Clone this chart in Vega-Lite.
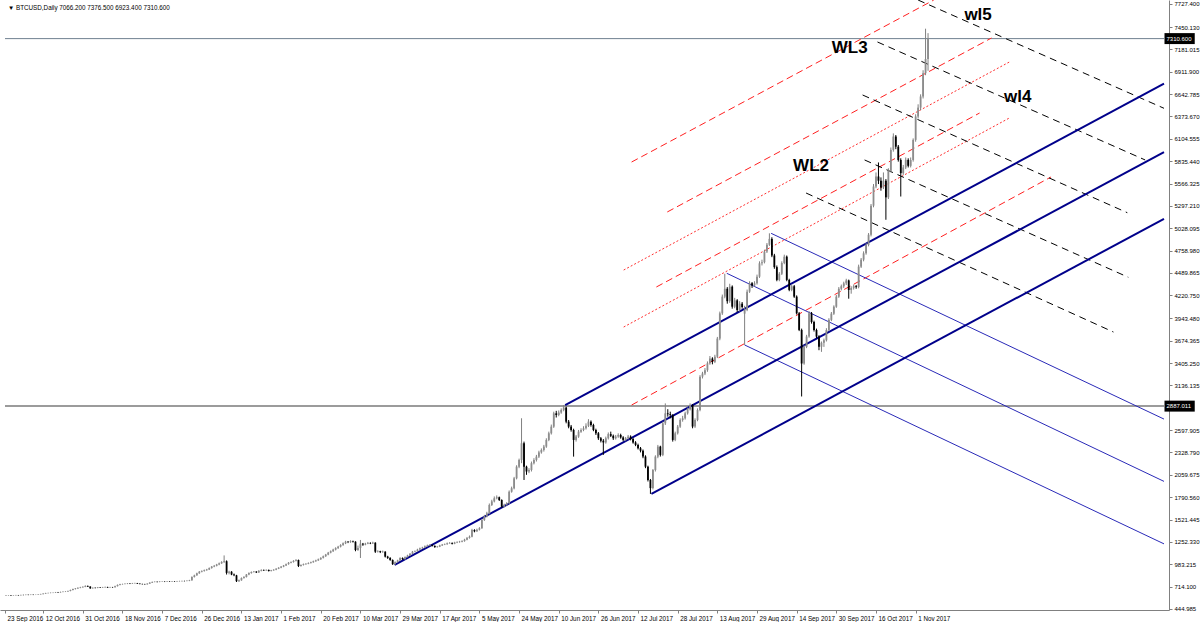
{
  "$schema": "https://vega.github.io/schema/vega-lite/v6.json",
  "width": 1169,
  "height": 610,
  "padding": 0,
  "background": "white",
  "view": {"stroke": null},
  "config": {"font": "Liberation Sans"},
  "datasets": {
    "bars": [
      {"i":0,"o":605,"h":612,"l":602,"c":608},{"i":1,"o":608,"h":613,"l":605,"c":610},{"i":2,"o":610,"h":612,"l":603,"c":606},
      {"i":3,"o":606,"h":611,"l":604,"c":609},{"i":4,"o":609,"h":615,"l":607,"c":612},{"i":5,"o":612,"h":614,"l":606,"c":610},
      {"i":6,"o":610,"h":617,"l":608,"c":614},{"i":7,"o":614,"h":617,"l":610,"c":613},{"i":8,"o":613,"h":619,"l":611,"c":616},
      {"i":9,"o":616,"h":618,"l":611,"c":614},{"i":10,"o":614,"h":620,"l":612,"c":617},{"i":11,"o":617,"h":619,"l":612,"c":615},
      {"i":12,"o":615,"h":619,"l":613,"c":616},{"i":13,"o":616,"h":623,"l":614,"c":620},{"i":14,"o":620,"h":628,"l":618,"c":624},
      {"i":15,"o":624,"h":634,"l":621,"c":630},{"i":16,"o":630,"h":640,"l":627,"c":636},{"i":17,"o":636,"h":642,"l":632,"c":638},
      {"i":18,"o":638,"h":644,"l":634,"c":640},{"i":19,"o":640,"h":646,"l":636,"c":642},{"i":20,"o":642,"h":650,"l":639,"c":646},
      {"i":21,"o":646,"h":650,"l":640,"c":645},{"i":22,"o":645,"h":654,"l":642,"c":650},{"i":23,"o":650,"h":657,"l":646,"c":653},
      {"i":24,"o":653,"h":659,"l":649,"c":655},{"i":25,"o":655,"h":666,"l":652,"c":662},{"i":26,"o":662,"h":678,"l":658,"c":673},
      {"i":27,"o":673,"h":690,"l":669,"c":685},{"i":28,"o":685,"h":697,"l":680,"c":692},{"i":29,"o":692,"h":705,"l":687,"c":700},
      {"i":30,"o":700,"h":712,"l":695,"c":706},{"i":31,"o":706,"h":718,"l":701,"c":712},{"i":32,"o":712,"h":730,"l":708,"c":722},
      {"i":33,"o":722,"h":728,"l":710,"c":715},{"i":34,"o":715,"h":718,"l":688,"c":694},{"i":35,"o":694,"h":705,"l":690,"c":700},
      {"i":36,"o":700,"h":704,"l":693,"c":698},{"i":37,"o":698,"h":710,"l":695,"c":705},{"i":38,"o":705,"h":709,"l":698,"c":702},
      {"i":39,"o":702,"h":711,"l":699,"c":706},{"i":40,"o":706,"h":715,"l":702,"c":710},{"i":41,"o":710,"h":713,"l":699,"c":704},
      {"i":42,"o":704,"h":712,"l":700,"c":708},{"i":43,"o":708,"h":711,"l":701,"c":706},{"i":44,"o":706,"h":725,"l":703,"c":720},
      {"i":45,"o":720,"h":740,"l":716,"c":735},{"i":46,"o":735,"h":748,"l":730,"c":742},{"i":47,"o":742,"h":750,"l":738,"c":745},
      {"i":48,"o":745,"h":753,"l":741,"c":748},{"i":49,"o":748,"h":757,"l":744,"c":752},{"i":50,"o":752,"h":755,"l":745,"c":750},
      {"i":51,"o":750,"h":759,"l":747,"c":754},{"i":52,"o":754,"h":761,"l":750,"c":756},{"i":53,"o":756,"h":759,"l":746,"c":750},
      {"i":54,"o":750,"h":753,"l":742,"c":746},{"i":55,"o":746,"h":750,"l":740,"c":744},{"i":56,"o":744,"h":748,"l":738,"c":742},
      {"i":57,"o":742,"h":755,"l":739,"c":750},{"i":58,"o":750,"h":767,"l":747,"c":762},{"i":59,"o":762,"h":776,"l":758,"c":770},
      {"i":60,"o":770,"h":778,"l":766,"c":772},{"i":61,"o":772,"h":776,"l":765,"c":770},{"i":62,"o":770,"h":779,"l":767,"c":774},
      {"i":63,"o":774,"h":780,"l":770,"c":775},{"i":64,"o":775,"h":778,"l":769,"c":773},{"i":65,"o":773,"h":781,"l":770,"c":776},
      {"i":66,"o":776,"h":779,"l":770,"c":774},{"i":67,"o":774,"h":782,"l":771,"c":777},{"i":68,"o":777,"h":780,"l":771,"c":775},
      {"i":69,"o":775,"h":783,"l":772,"c":778},{"i":70,"o":778,"h":785,"l":775,"c":780},{"i":71,"o":780,"h":787,"l":777,"c":782},
      {"i":72,"o":782,"h":786,"l":777,"c":781},{"i":73,"o":781,"h":789,"l":778,"c":784},{"i":74,"o":784,"h":796,"l":780,"c":790},
      {"i":75,"o":790,"h":838,"l":786,"c":830},{"i":76,"o":830,"h":858,"l":824,"c":850},{"i":77,"o":850,"h":882,"l":845,"c":875},
      {"i":78,"o":875,"h":902,"l":868,"c":894},{"i":79,"o":894,"h":910,"l":886,"c":902},{"i":80,"o":902,"h":920,"l":895,"c":912},
      {"i":81,"o":912,"h":928,"l":905,"c":920},{"i":82,"o":920,"h":945,"l":914,"c":938},{"i":83,"o":938,"h":962,"l":930,"c":955},
      {"i":84,"o":955,"h":975,"l":948,"c":965},{"i":85,"o":965,"h":988,"l":958,"c":980},{"i":86,"o":980,"h":1004,"l":972,"c":995},
      {"i":87,"o":995,"h":1020,"l":988,"c":1010},{"i":88,"o":1010,"h":1090,"l":1000,"c":1020},{"i":89,"o":1020,"h":1030,"l":860,"c":880},
      {"i":90,"o":880,"h":905,"l":862,"c":894},{"i":91,"o":894,"h":900,"l":852,"c":860},{"i":92,"o":860,"h":872,"l":840,"c":850},
      {"i":93,"o":850,"h":856,"l":770,"c":780},{"i":94,"o":780,"h":800,"l":772,"c":790},{"i":95,"o":790,"h":825,"l":785,"c":818},
      {"i":96,"o":818,"h":840,"l":810,"c":830},{"i":97,"o":830,"h":866,"l":824,"c":860},{"i":98,"o":860,"h":886,"l":852,"c":878},
      {"i":99,"o":878,"h":897,"l":870,"c":890},{"i":100,"o":890,"h":902,"l":884,"c":895},{"i":101,"o":895,"h":900,"l":878,"c":885},
      {"i":102,"o":885,"h":912,"l":880,"c":905},{"i":103,"o":905,"h":922,"l":898,"c":915},{"i":104,"o":915,"h":920,"l":903,"c":910},
      {"i":105,"o":910,"h":922,"l":905,"c":915},{"i":106,"o":915,"h":920,"l":896,"c":902},{"i":107,"o":902,"h":916,"l":897,"c":910},
      {"i":108,"o":910,"h":924,"l":905,"c":918},{"i":109,"o":918,"h":936,"l":912,"c":930},{"i":110,"o":930,"h":948,"l":925,"c":942},
      {"i":111,"o":942,"h":962,"l":936,"c":955},{"i":112,"o":955,"h":975,"l":948,"c":968},{"i":113,"o":968,"h":992,"l":962,"c":985},
      {"i":114,"o":985,"h":1010,"l":978,"c":1002},{"i":115,"o":1002,"h":1018,"l":995,"c":1010},{"i":116,"o":1010,"h":1032,"l":1004,"c":1025},
      {"i":117,"o":1025,"h":1045,"l":1018,"c":1035},{"i":118,"o":1035,"h":1040,"l":950,"c":963},{"i":119,"o":963,"h":982,"l":955,"c":975},
      {"i":120,"o":975,"h":992,"l":968,"c":985},{"i":121,"o":985,"h":996,"l":978,"c":990},{"i":122,"o":990,"h":1006,"l":984,"c":999},
      {"i":123,"o":999,"h":1015,"l":992,"c":1008},{"i":124,"o":1008,"h":1027,"l":1002,"c":1020},{"i":125,"o":1020,"h":1038,"l":1013,"c":1030},
      {"i":126,"o":1030,"h":1052,"l":1024,"c":1043},{"i":127,"o":1043,"h":1068,"l":1036,"c":1060},{"i":128,"o":1060,"h":1088,"l":1053,"c":1080},
      {"i":129,"o":1080,"h":1108,"l":1072,"c":1100},{"i":130,"o":1100,"h":1132,"l":1092,"c":1123},{"i":131,"o":1123,"h":1150,"l":1115,"c":1140},
      {"i":132,"o":1140,"h":1170,"l":1132,"c":1160},{"i":133,"o":1160,"h":1188,"l":1150,"c":1178},{"i":134,"o":1178,"h":1205,"l":1168,"c":1195},
      {"i":135,"o":1195,"h":1225,"l":1186,"c":1215},{"i":136,"o":1215,"h":1246,"l":1205,"c":1235},{"i":137,"o":1235,"h":1266,"l":1226,"c":1255},
      {"i":138,"o":1255,"h":1262,"l":1238,"c":1250},{"i":139,"o":1250,"h":1272,"l":1242,"c":1260},{"i":140,"o":1260,"h":1268,"l":1245,"c":1255},
      {"i":141,"o":1255,"h":1260,"l":1140,"c":1155},{"i":142,"o":1155,"h":1208,"l":1145,"c":1180},{"i":143,"o":1180,"h":1276,"l":1059,"c":1231},
      {"i":144,"o":1231,"h":1240,"l":1205,"c":1220},{"i":145,"o":1220,"h":1242,"l":1212,"c":1231},{"i":146,"o":1231,"h":1252,"l":1225,"c":1240},
      {"i":147,"o":1240,"h":1248,"l":1226,"c":1235},{"i":148,"o":1235,"h":1255,"l":1228,"c":1243},{"i":149,"o":1243,"h":1248,"l":1120,"c":1135},
      {"i":150,"o":1135,"h":1152,"l":1125,"c":1140},{"i":151,"o":1140,"h":1146,"l":1118,"c":1130},{"i":152,"o":1130,"h":1148,"l":1122,"c":1135},
      {"i":153,"o":1135,"h":1140,"l":1065,"c":1075},{"i":154,"o":1075,"h":1085,"l":1048,"c":1060},{"i":155,"o":1060,"h":1068,"l":1025,"c":1035},
      {"i":156,"o":1035,"h":1042,"l":975,"c":985},{"i":157,"o":985,"h":1018,"l":980,"c":1010},{"i":158,"o":1010,"h":1038,"l":1002,"c":1030},
      {"i":159,"o":1030,"h":1068,"l":1024,"c":1059},{"i":160,"o":1059,"h":1066,"l":1036,"c":1045},{"i":161,"o":1045,"h":1078,"l":1040,"c":1070},
      {"i":162,"o":1070,"h":1098,"l":1064,"c":1090},{"i":163,"o":1090,"h":1118,"l":1084,"c":1110},{"i":164,"o":1110,"h":1144,"l":1104,"c":1135},
      {"i":165,"o":1135,"h":1150,"l":1128,"c":1140},{"i":166,"o":1140,"h":1170,"l":1134,"c":1160},{"i":167,"o":1160,"h":1184,"l":1154,"c":1175},
      {"i":168,"o":1175,"h":1194,"l":1168,"c":1185},{"i":169,"o":1185,"h":1210,"l":1178,"c":1200},{"i":170,"o":1200,"h":1220,"l":1193,"c":1210},
      {"i":171,"o":1210,"h":1226,"l":1203,"c":1216},{"i":172,"o":1216,"h":1222,"l":1198,"c":1205},{"i":173,"o":1205,"h":1210,"l":1182,"c":1190},
      {"i":174,"o":1190,"h":1204,"l":1184,"c":1195},{"i":175,"o":1195,"h":1218,"l":1190,"c":1210},{"i":176,"o":1210,"h":1228,"l":1204,"c":1220},
      {"i":177,"o":1220,"h":1233,"l":1214,"c":1225},{"i":178,"o":1225,"h":1245,"l":1218,"c":1236},{"i":179,"o":1236,"h":1250,"l":1230,"c":1240},
      {"i":180,"o":1240,"h":1246,"l":1222,"c":1230},{"i":181,"o":1230,"h":1254,"l":1225,"c":1245},{"i":182,"o":1245,"h":1260,"l":1238,"c":1250},
      {"i":183,"o":1250,"h":1265,"l":1243,"c":1255},{"i":184,"o":1255,"h":1272,"l":1248,"c":1262},{"i":185,"o":1262,"h":1290,"l":1255,"c":1280},
      {"i":186,"o":1280,"h":1312,"l":1272,"c":1300},{"i":187,"o":1300,"h":1330,"l":1292,"c":1316},{"i":188,"o":1316,"h":1410,"l":1308,"c":1396},
      {"i":189,"o":1396,"h":1405,"l":1368,"c":1380},{"i":190,"o":1380,"h":1412,"l":1372,"c":1400},{"i":191,"o":1400,"h":1430,"l":1390,"c":1417},
      {"i":192,"o":1417,"h":1530,"l":1410,"c":1516},{"i":193,"o":1516,"h":1578,"l":1505,"c":1560},{"i":194,"o":1560,"h":1615,"l":1548,"c":1597},
      {"i":195,"o":1597,"h":1715,"l":1585,"c":1697},{"i":196,"o":1697,"h":1760,"l":1685,"c":1740},{"i":197,"o":1740,"h":1800,"l":1728,"c":1778},
      {"i":198,"o":1778,"h":1812,"l":1765,"c":1790},{"i":199,"o":1790,"h":1798,"l":1745,"c":1757},{"i":200,"o":1757,"h":1765,"l":1665,"c":1677},
      {"i":201,"o":1677,"h":1712,"l":1668,"c":1700},{"i":202,"o":1700,"h":1730,"l":1688,"c":1717},{"i":203,"o":1717,"h":1872,"l":1708,"c":1857},
      {"i":204,"o":1857,"h":1918,"l":1845,"c":1898},{"i":205,"o":1898,"h":2035,"l":1885,"c":2018},{"i":206,"o":2018,"h":2175,"l":2005,"c":2158},
      {"i":207,"o":2158,"h":2255,"l":2140,"c":2239},{"i":208,"o":2239,"h":2741,"l":2200,"c":2440},{"i":209,"o":2440,"h":2460,"l":1998,"c":2158},
      {"i":210,"o":2158,"h":2170,"l":2060,"c":2100},{"i":211,"o":2100,"h":2140,"l":2080,"c":2118},{"i":212,"o":2118,"h":2220,"l":2100,"c":2200},
      {"i":213,"o":2200,"h":2260,"l":2185,"c":2239},{"i":214,"o":2239,"h":2300,"l":2220,"c":2279},{"i":215,"o":2279,"h":2350,"l":2262,"c":2330},
      {"i":216,"o":2330,"h":2378,"l":2315,"c":2359},{"i":217,"o":2359,"h":2420,"l":2340,"c":2400},{"i":218,"o":2400,"h":2500,"l":2385,"c":2480},
      {"i":219,"o":2480,"h":2580,"l":2465,"c":2560},{"i":220,"o":2560,"h":2665,"l":2545,"c":2640},{"i":221,"o":2640,"h":2820,"l":2625,"c":2800},
      {"i":222,"o":2800,"h":2830,"l":2750,"c":2780},{"i":223,"o":2780,"h":2835,"l":2765,"c":2810},{"i":224,"o":2810,"h":2860,"l":2795,"c":2841},
      {"i":225,"o":2841,"h":2900,"l":2825,"c":2870},{"i":226,"o":2870,"h":2880,"l":2680,"c":2700},{"i":227,"o":2700,"h":2720,"l":2620,"c":2640},
      {"i":228,"o":2640,"h":2660,"l":2580,"c":2600},{"i":229,"o":2600,"h":2615,"l":2279,"c":2480},{"i":230,"o":2480,"h":2540,"l":2460,"c":2520},
      {"i":231,"o":2520,"h":2600,"l":2505,"c":2580},{"i":232,"o":2580,"h":2620,"l":2565,"c":2600},{"i":233,"o":2600,"h":2645,"l":2585,"c":2620},
      {"i":234,"o":2620,"h":2680,"l":2605,"c":2650},{"i":235,"o":2650,"h":2730,"l":2635,"c":2700},{"i":236,"o":2700,"h":2715,"l":2640,"c":2660},
      {"i":237,"o":2660,"h":2675,"l":2585,"c":2600},{"i":238,"o":2600,"h":2615,"l":2540,"c":2560},{"i":239,"o":2560,"h":2575,"l":2480,"c":2500},
      {"i":240,"o":2500,"h":2515,"l":2450,"c":2470},{"i":241,"o":2470,"h":2490,"l":2300,"c":2450},{"i":242,"o":2450,"h":2520,"l":2435,"c":2500},
      {"i":243,"o":2500,"h":2570,"l":2485,"c":2550},{"i":244,"o":2550,"h":2580,"l":2515,"c":2530},{"i":245,"o":2530,"h":2545,"l":2480,"c":2500},
      {"i":246,"o":2500,"h":2540,"l":2485,"c":2520},{"i":247,"o":2520,"h":2560,"l":2505,"c":2540},{"i":248,"o":2540,"h":2555,"l":2495,"c":2510},
      {"i":249,"o":2510,"h":2525,"l":2465,"c":2480},{"i":250,"o":2480,"h":2515,"l":2465,"c":2500},{"i":251,"o":2500,"h":2540,"l":2485,"c":2520},
      {"i":252,"o":2520,"h":2535,"l":2475,"c":2490},{"i":253,"o":2490,"h":2505,"l":2435,"c":2450},{"i":254,"o":2450,"h":2465,"l":2405,"c":2420},
      {"i":255,"o":2420,"h":2435,"l":2365,"c":2380},{"i":256,"o":2380,"h":2395,"l":2330,"c":2350},{"i":257,"o":2350,"h":2365,"l":2260,"c":2280},
      {"i":258,"o":2280,"h":2295,"l":2140,"c":2158},{"i":259,"o":2158,"h":2170,"l":1980,"c":1998},{"i":260,"o":1998,"h":2010,"l":1830,"c":1900},
      {"i":261,"o":1900,"h":2130,"l":1885,"c":2118},{"i":262,"o":2118,"h":2295,"l":2100,"c":2279},{"i":263,"o":2279,"h":2420,"l":2260,"c":2400},
      {"i":264,"o":2400,"h":2410,"l":2280,"c":2300},{"i":265,"o":2300,"h":2700,"l":2285,"c":2680},{"i":266,"o":2680,"h":2920,"l":2660,"c":2800},
      {"i":267,"o":2800,"h":2850,"l":2760,"c":2790},{"i":268,"o":2790,"h":2820,"l":2740,"c":2780},{"i":269,"o":2780,"h":2790,"l":2460,"c":2480},
      {"i":270,"o":2480,"h":2580,"l":2465,"c":2560},{"i":271,"o":2560,"h":2660,"l":2545,"c":2640},{"i":272,"o":2640,"h":2740,"l":2625,"c":2720},
      {"i":273,"o":2720,"h":2770,"l":2700,"c":2740},{"i":274,"o":2740,"h":2820,"l":2725,"c":2800},{"i":275,"o":2800,"h":2870,"l":2785,"c":2850},
      {"i":276,"o":2850,"h":2920,"l":2835,"c":2901},{"i":277,"o":2901,"h":2910,"l":2620,"c":2641},{"i":278,"o":2641,"h":2740,"l":2625,"c":2720},
      {"i":279,"o":2720,"h":2860,"l":2705,"c":2841},{"i":280,"o":2841,"h":3260,"l":2825,"c":3242},{"i":281,"o":3242,"h":3300,"l":3220,"c":3280},
      {"i":282,"o":3280,"h":3345,"l":3260,"c":3320},{"i":283,"o":3320,"h":3425,"l":3300,"c":3402},{"i":284,"o":3402,"h":3490,"l":3385,"c":3460},
      {"i":285,"o":3460,"h":3475,"l":3390,"c":3420},{"i":286,"o":3420,"h":3505,"l":3405,"c":3482},{"i":287,"o":3482,"h":3720,"l":3465,"c":3700},
      {"i":288,"o":3700,"h":4025,"l":3680,"c":4004},{"i":289,"o":4004,"h":4230,"l":3985,"c":4205},{"i":290,"o":4205,"h":4480,"l":4185,"c":4300},
      {"i":291,"o":4300,"h":4320,"l":4120,"c":4150},{"i":292,"o":4150,"h":4360,"l":4130,"c":4325},{"i":293,"o":4325,"h":4340,"l":4060,"c":4084},
      {"i":294,"o":4084,"h":4190,"l":4065,"c":4160},{"i":295,"o":4160,"h":4175,"l":4020,"c":4044},{"i":296,"o":4044,"h":4150,"l":4025,"c":4120},
      {"i":297,"o":4120,"h":4140,"l":4060,"c":4080},{"i":298,"o":4000,"h":4095,"l":3623,"c":4044},{"i":299,"o":4044,"h":4290,"l":4030,"c":4265},
      {"i":300,"o":4265,"h":4390,"l":4250,"c":4365},{"i":301,"o":4365,"h":4380,"l":4310,"c":4340},{"i":302,"o":4340,"h":4390,"l":4325,"c":4365},
      {"i":303,"o":4365,"h":4470,"l":4350,"c":4445},{"i":304,"o":4445,"h":4630,"l":4430,"c":4606},{"i":305,"o":4606,"h":4650,"l":4580,"c":4620},
      {"i":306,"o":4620,"h":4770,"l":4605,"c":4747},{"i":307,"o":4747,"h":4850,"l":4730,"c":4830},{"i":308,"o":4830,"h":4967,"l":4815,"c":4900},
      {"i":309,"o":4900,"h":4920,"l":4680,"c":4700},{"i":310,"o":4700,"h":4720,"l":4540,"c":4560},{"i":311,"o":4560,"h":4580,"l":4390,"c":4406},
      {"i":312,"o":4406,"h":4500,"l":4390,"c":4480},{"i":313,"o":4480,"h":4630,"l":4465,"c":4610},{"i":314,"o":4610,"h":4710,"l":4595,"c":4686},
      {"i":315,"o":4686,"h":4700,"l":4390,"c":4406},{"i":316,"o":4406,"h":4420,"l":4270,"c":4286},{"i":317,"o":4286,"h":4350,"l":4270,"c":4330},
      {"i":318,"o":4330,"h":4345,"l":4190,"c":4205},{"i":319,"o":4205,"h":4220,"l":3990,"c":4004},{"i":320,"o":4004,"h":4020,"l":3790,"c":3804},
      {"i":321,"o":3804,"h":3820,"l":3003,"c":3400},{"i":322,"o":3400,"h":3620,"l":3385,"c":3600},{"i":323,"o":3600,"h":3745,"l":3585,"c":3724},
      {"i":324,"o":3724,"h":4030,"l":3710,"c":4004},{"i":325,"o":4004,"h":4020,"l":3880,"c":3900},{"i":326,"o":3900,"h":3915,"l":3785,"c":3804},
      {"i":327,"o":3804,"h":3820,"l":3705,"c":3724},{"i":328,"o":3724,"h":3740,"l":3560,"c":3602},{"i":329,"o":3602,"h":3665,"l":3540,"c":3650},
      {"i":330,"o":3650,"h":3700,"l":3600,"c":3680},{"i":331,"o":3680,"h":3825,"l":3665,"c":3804},{"i":332,"o":3804,"h":3945,"l":3790,"c":3925},
      {"i":333,"o":3925,"h":4020,"l":3910,"c":4000},{"i":334,"o":4000,"h":4100,"l":3985,"c":4084},{"i":335,"o":4084,"h":4225,"l":4070,"c":4205},
      {"i":336,"o":4205,"h":4320,"l":4190,"c":4300},{"i":337,"o":4300,"h":4350,"l":4280,"c":4330},{"i":338,"o":4330,"h":4385,"l":4310,"c":4365},
      {"i":339,"o":4365,"h":4420,"l":4345,"c":4400},{"i":340,"o":4400,"h":4410,"l":4180,"c":4285},{"i":341,"o":4285,"h":4330,"l":4240,"c":4310},
      {"i":342,"o":4310,"h":4350,"l":4290,"c":4330},{"i":343,"o":4330,"h":4345,"l":4300,"c":4320},{"i":344,"o":4320,"h":4590,"l":4305,"c":4566},
      {"i":345,"o":4566,"h":4670,"l":4550,"c":4650},{"i":346,"o":4650,"h":4750,"l":4630,"c":4726},{"i":347,"o":4726,"h":4850,"l":4710,"c":4827},
      {"i":348,"o":4827,"h":4970,"l":4810,"c":4950},{"i":349,"o":4950,"h":5320,"l":4930,"c":5300},{"i":350,"o":5300,"h":5560,"l":5280,"c":5530},
      {"i":351,"o":5530,"h":5700,"l":5510,"c":5651},{"i":352,"o":5651,"h":5820,"l":5560,"c":5600},{"i":353,"o":5600,"h":5640,"l":5480,"c":5520},
      {"i":354,"o":5520,"h":5700,"l":5500,"c":5600},{"i":355,"o":5600,"h":5620,"l":5130,"c":5400},{"i":356,"o":5400,"h":5750,"l":5380,"c":5720},
      {"i":357,"o":5720,"h":6000,"l":5700,"c":5971},{"i":358,"o":5971,"h":6170,"l":5950,"c":6132},{"i":359,"o":6132,"h":6150,"l":5980,"c":6010},
      {"i":360,"o":6010,"h":6030,"l":5830,"c":5850},{"i":361,"o":5850,"h":5870,"l":5410,"c":5691},{"i":362,"o":5691,"h":5790,"l":5670,"c":5760},
      {"i":363,"o":5760,"h":5880,"l":5740,"c":5851},{"i":364,"o":5851,"h":5870,"l":5760,"c":5780},{"i":365,"o":5780,"h":5880,"l":5760,"c":5850},
      {"i":366,"o":5850,"h":6110,"l":5830,"c":6092},{"i":367,"o":6092,"h":6400,"l":6070,"c":6373},{"i":368,"o":6373,"h":6520,"l":6350,"c":6480},
      {"i":369,"o":6480,"h":6640,"l":6450,"c":6614},{"i":370,"o":6614,"h":6930,"l":6590,"c":6895},{"i":371,"o":6895,"h":7430,"l":6870,"c":7066},
      {"i":372,"o":7066.2,"h":7376.5,"l":6923.4,"c":7310.6}
    ],
    "lines": [
      {"kind":"blueThick","x1":225.6,"y1":2900,"x2":467.2,"y2":6768},
      {"kind":"blueThick","x1":156.8,"y1":975,"x2":467.2,"y2":5944},
      {"kind":"blueThick","x1":260.4,"y1":1830,"x2":467.2,"y2":5141},
      {"kind":"blueThin","x1":308.7,"y1":4967,"x2":467.2,"y2":2731},
      {"kind":"blueThin","x1":290.8,"y1":4486,"x2":467.2,"y2":1981},
      {"kind":"blueThin","x1":298,"y1":3623,"x2":467.2,"y2":1229},
      {"kind":"redDash","x1":252.4,"y1":5825,"x2":374.3,"y2":7775},
      {"kind":"redDash","x1":266.8,"y1":5224,"x2":397.6,"y2":7318},
      {"kind":"redDash","x1":262.4,"y1":4321,"x2":392.8,"y2":6415},
      {"kind":"redDash","x1":252.4,"y1":2900,"x2":421.6,"y2":5645},
      {"kind":"redDot","x1":249.2,"y1":4525,"x2":404.8,"y2":7029},
      {"kind":"redDot","x1":249.2,"y1":3839,"x2":404.8,"y2":6355},
      {"kind":"blackDash","x1":368,"y1":7775,"x2":467.2,"y2":6472},
      {"kind":"blackDash","x1":351.6,"y1":7270,"x2":459.6,"y2":5850},
      {"kind":"blackDash","x1":345.6,"y1":6632,"x2":452.4,"y2":5215},
      {"kind":"blackDash","x1":346.4,"y1":5850,"x2":452.8,"y2":4438},
      {"kind":"blackDash","x1":322.8,"y1":5452,"x2":446.8,"y2":3779}
    ],
    "levels": [
      {"p":7310.6,"kind":"bid"},
      {"p":2887.011,"kind":"level"}
    ],
    "labels": [
      {"t":"WL3","i":340.4,"p":7197},
      {"t":"WL2","i":324.8,"p":5777},
      {"t":"wl5","i":392.2,"p":7595},
      {"t":"wl4","i":408.2,"p":6608}
    ],
    "tags": [
      {"t":"7310.600","p":7310.6,"top":7377,"bottom":7245},
      {"t":"2887.011","p":2887.011,"top":2953,"bottom":2821}
    ]
  },
  "encoding": {
    "x": {
      "type": "quantitative",
      "scale": {"domain": [-0.4, 467.2], "nice": false, "zero": false},
      "axis": {
        "orient": "bottom",
        "title": null,
        "grid": false,
        "values": [-0.4, 15, 31, 47, 63, 79, 95, 111, 127, 143, 159, 175, 191, 207, 223, 239, 255, 271, 287, 303, 319, 335, 351, 367],
        "labelExpr": "['23 Sep 2016','12 Oct 2016','31 Oct 2016','18 Nov 2016','7 Dec 2016','26 Dec 2016','13 Jan 2017','1 Feb 2017','20 Feb 2017','10 Mar 2017','29 Mar 2017','17 Apr 2017','5 May 2017','24 May 2017','10 Jun 2017','26 Jun 2017','12 Jul 2017','28 Jul 2017','13 Aug 2017','29 Aug 2017','14 Sep 2017','30 Sep 2017','16 Oct 2017','1 Nov 2017'][round((datum.value + 1) / 16)]",
        "labelAlign": "left",
        "labelBaseline": "top",
        "labelOffset": 2,
        "labelPadding": 2,
        "labelFlush": false,
        "labelOverlap": false,
        "labelFont": "Liberation Sans",
        "labelFontSize": 6.3,
        "labelColor": "#000000",
        "tickSize": 3,
        "tickColor": "#808080",
        "domainColor": "#808080"
      }
    },
    "y": {
      "type": "quantitative",
      "scale": {"domain": [432.9, 7775.5], "nice": false, "zero": false},
      "axis": {
        "orient": "right",
        "title": null,
        "grid": false,
        "values": [444.985, 714.1, 983.215, 1252.33, 1521.445, 1790.56, 2059.675, 2328.79, 2597.905, 3136.135, 3405.25, 3674.365, 3943.48, 4220.75, 4489.865, 4758.98, 5028.095, 5297.21, 5566.325, 5835.44, 6104.555, 6373.67, 6642.785, 6911.9, 7181.015, 7450.13, 7727.4],
        "format": ".3f",
        "labelAlign": "left",
        "labelBaseline": "middle",
        "labelPadding": 2,
        "labelFlush": false,
        "labelOverlap": false,
        "labelFont": "Liberation Sans",
        "labelFontSize": 6,
        "labelColor": "#000000",
        "tickSize": 3,
        "tickColor": "#808080",
        "domainColor": "#808080"
      }
    }
  },
  "layer": [
    {
      "data": {"name": "levels"},
      "transform": [{"filter": "datum.kind === 'bid'"}],
      "mark": {"type": "rule", "color": "#708090", "strokeWidth": 1},
      "encoding": {"x": {"datum": -0.4}, "x2": {"datum": 467.2}, "y": {"field": "p"}}
    },
    {
      "data": {"name": "levels"},
      "transform": [{"filter": "datum.kind === 'level'"}],
      "mark": {"type": "rule", "color": "#7a7a7a", "strokeWidth": 1.5},
      "encoding": {"x": {"datum": -0.4}, "x2": {"datum": 467.2}, "y": {"field": "p"}}
    },
    {
      "data": {"name": "lines"},
      "transform": [{"filter": "datum.kind === 'redDash'"}],
      "mark": {"type": "rule", "color": "#ff2020", "strokeWidth": 1, "strokeDash": [7, 4], "clip": true},
      "encoding": {"x": {"field": "x1"}, "x2": {"field": "x2"}, "y": {"field": "y1"}, "y2": {"field": "y2"}}
    },
    {
      "data": {"name": "lines"},
      "transform": [{"filter": "datum.kind === 'redDot'"}],
      "mark": {"type": "rule", "color": "#ff3030", "strokeWidth": 1, "strokeDash": [2, 2], "clip": true},
      "encoding": {"x": {"field": "x1"}, "x2": {"field": "x2"}, "y": {"field": "y1"}, "y2": {"field": "y2"}}
    },
    {
      "data": {"name": "lines"},
      "transform": [{"filter": "datum.kind === 'blackDash'"}],
      "mark": {"type": "rule", "color": "#000000", "strokeWidth": 1, "strokeDash": [7, 5], "clip": true},
      "encoding": {"x": {"field": "x1"}, "x2": {"field": "x2"}, "y": {"field": "y1"}, "y2": {"field": "y2"}}
    },
    {
      "data": {"name": "lines"},
      "transform": [{"filter": "datum.kind === 'blueThin'"}],
      "mark": {"type": "rule", "color": "#2a2ab8", "strokeWidth": 1, "clip": true},
      "encoding": {"x": {"field": "x1"}, "x2": {"field": "x2"}, "y": {"field": "y1"}, "y2": {"field": "y2"}}
    },
    {
      "data": {"name": "lines"},
      "transform": [{"filter": "datum.kind === 'blueThick'"}],
      "mark": {"type": "rule", "color": "#00008b", "strokeWidth": 2, "clip": true},
      "encoding": {"x": {"field": "x1"}, "x2": {"field": "x2"}, "y": {"field": "y1"}, "y2": {"field": "y2"}}
    },
    {
      "data": {"name": "bars"},
      "mark": {"type": "rule", "strokeWidth": 1},
      "encoding": {
        "x": {"field": "i"},
        "y": {"field": "l"},
        "y2": {"field": "h"},
        "color": {"condition": {"test": "datum.c >= datum.o", "value": "#808080"}, "value": "#000000"}
      }
    },
    {
      "data": {"name": "bars"},
      "mark": {"type": "bar", "size": 1.8},
      "encoding": {
        "x": {"field": "i"},
        "y": {"field": "o"},
        "y2": {"field": "c"},
        "color": {"condition": {"test": "datum.c >= datum.o", "value": "#8c8c8c"}, "value": "#000000"}
      }
    },
    {
      "data": {"name": "labels"},
      "mark": {"type": "text", "font": "Liberation Sans", "fontSize": 17, "fontWeight": "bold", "color": "#000000", "align": "center", "baseline": "middle"},
      "encoding": {"x": {"field": "i"}, "y": {"field": "p"}, "text": {"field": "t"}}
    },
    {
      "data": {"name": "tags"},
      "mark": {"type": "rect", "color": "#000000", "clip": false},
      "encoding": {"x": {"datum": 467.4}, "x2": {"datum": 479.6}, "y": {"field": "top"}, "y2": {"field": "bottom"}}
    },
    {
      "data": {"name": "tags"},
      "mark": {"type": "text", "font": "Liberation Sans", "fontSize": 6, "color": "#ffffff", "align": "left", "baseline": "middle", "clip": false},
      "encoding": {"x": {"datum": 468.2}, "y": {"field": "p"}, "text": {"field": "t"}}
    },
    {
      "data": {"values": [{"t": "▼ BTCUSD,Daily  7066.200 7376.500 6923.400 7310.600", "i": 0.8, "p": 7685}]},
      "mark": {"type": "text", "font": "Liberation Sans", "fontSize": 6.3, "color": "#000000", "align": "left", "baseline": "middle"},
      "encoding": {"x": {"field": "i"}, "y": {"field": "p"}, "text": {"field": "t"}}
    }
  ]
}
